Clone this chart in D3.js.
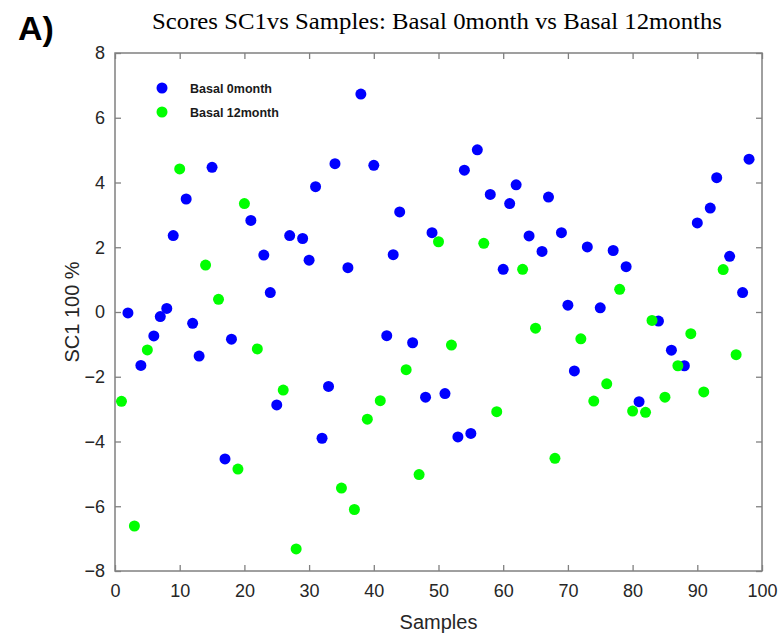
<!DOCTYPE html>
<html>
<head>
<meta charset="utf-8">
<script src="https://cdn.jsdelivr.net/npm/d3@7"></script>
<style>
  body { margin: 0; background: #fff; }
  text { font-family: "Liberation Sans", Arial, sans-serif; }
</style>
</head>
<body>
<script>
// data
var seriesNames = ["Basal 0month", "Basal 12month"];
var seriesColors = ["#0000ff", "#00ff00"];

var basal0x = [2, 4, 6, 7, 8, 9, 11, 12, 13, 15, 17, 18, 21, 23, 24, 25, 27, 29, 30, 31,
  32, 33, 34, 36, 38, 40, 42, 43, 44, 46, 48, 49, 51, 53, 54, 55, 56, 58, 60, 61,
  62, 64, 66, 67, 69, 70, 71, 73, 75, 77, 79, 81, 84, 86, 88, 90, 92, 93, 95, 97, 98];
var basal0y = [-0.03, -1.65, -0.74, -0.14, 0.11, 2.36, 3.49, -0.35, -1.36, 4.47, -4.54, -0.84, 2.83, 1.76, 0.6, -2.87, 2.36, 2.27, 1.6, 3.87,
  -3.9, -2.3, 4.58, 1.37, 6.73, 4.53, -0.73, 1.77, 3.09, -0.95, -2.63, 2.45, -2.52, -3.86, 4.38, -3.75, 5.01, 3.63, 1.32, 3.35,
  3.93, 2.35, 1.87, 3.55, 2.45, 0.21, -1.82, 2.01, 0.13, 1.9, 1.4, -2.77, -0.28, -1.18, -1.66, 2.75, 3.21, 4.15, 1.72, 0.6, 4.72];

var basal12x = [1, 3, 5, 10, 14, 16, 19, 20, 22, 26, 28, 35, 37, 39, 41, 45, 47, 50, 52, 57,
  59, 63, 65, 68, 72, 74, 76, 78, 80, 82, 83, 85, 87, 89, 91, 94, 96];
var basal12y = [-2.76, -6.61, -1.17, 4.42, 1.45, 0.39, -4.85, 3.35, -1.14, -2.41, -7.32, -5.44, -6.1, -3.31, -2.74, -1.78, -5.02, 2.17, -1.02, 2.12,
  -3.08, 1.32, -0.5, -4.52, -0.83, -2.75, -2.22, 0.7, -3.06, -3.1, -0.26, -2.63, -1.66, -0.67, -2.47, 1.31, -1.32];

var xTicks = [0, 10, 20, 30, 40, 50, 60, 70, 80, 90, 100];
var yTicks = [-8, -6, -4, -2, 0, 2, 4, 6, 8];

var width = 781, height = 638;
// plot box edges (top is reserved on window, so use other names)
var boxL = 115, boxR = 762, boxT = 53, boxB = 571;

var svg = d3.select("body").append("svg")
  .attr("width", width)
  .attr("height", height);

var x = d3.scaleLinear().domain([0, 100]).range([boxL, boxR]);
var y = d3.scaleLinear().domain([-8, 8]).range([boxB, boxT]);

var axisColor = "#808080", textColor = "#262626";

// box + ticks on all four sides, ticks pointing in
function styleAxis(g) {
  g.select(".domain").remove();
  g.selectAll(".tick line").attr("stroke", axisColor).attr("stroke-width", 1.3);
  g.selectAll(".tick text").attr("fill", textColor).style("font-size", "18px")
    .style("font-family", "'Liberation Sans', Arial, sans-serif");
}

svg.append("g")
  .attr("transform", "translate(0," + boxB + ")")
  .call(d3.axisBottom(x).tickValues(xTicks).tickSizeInner(-6).tickSizeOuter(0).tickPadding(13))
  .call(styleAxis);
svg.append("g")
  .attr("transform", "translate(0," + boxT + ")")
  .call(d3.axisTop(x).tickValues(xTicks).tickSizeInner(-6).tickSizeOuter(0).tickFormat(""))
  .call(styleAxis);
svg.append("g")
  .attr("transform", "translate(" + boxL + ",0)")
  .call(d3.axisLeft(y).tickValues(yTicks).tickSizeInner(-6).tickSizeOuter(0).tickPadding(10))
  .call(styleAxis);
svg.append("g")
  .attr("transform", "translate(" + boxR + ",0)")
  .call(d3.axisRight(y).tickValues(yTicks).tickSizeInner(-6).tickSizeOuter(0).tickFormat(""))
  .call(styleAxis);

svg.append("rect")
  .attr("x", boxL).attr("y", boxT)
  .attr("width", boxR - boxL).attr("height", boxB - boxT)
  .attr("fill", "none").attr("stroke", axisColor).attr("stroke-width", 1.5);

// points
var sets = [
  d3.zip(basal0x, basal0y),
  d3.zip(basal12x, basal12y)
];
sets.forEach(function(pts, i) {
  svg.append("g").selectAll("circle").data(pts).enter().append("circle")
    .attr("cx", function(d) { return x(d[0]); })
    .attr("cy", function(d) { return y(d[1]); })
    .attr("r", 5.5)
    .attr("fill", seriesColors[i]);
});

// legend
seriesNames.forEach(function(name, i) {
  var ly = 88 + i * 24;
  svg.append("circle").attr("cx", 162).attr("cy", ly).attr("r", 5.5).attr("fill", seriesColors[i]);
  svg.append("text").attr("x", 190).attr("y", ly + 4.5)
    .attr("fill", "#1a1a1a")
    .style("font-size", "12.5px").style("font-weight", "bold")
    .text(name);
});

// titles and labels
svg.append("text")
  .attr("x", 18).attr("y", 40)
  .style("font-size", "34px").style("font-weight", "bold")
  .attr("fill", "#000")
  .text("A)");

svg.append("text")
  .attr("x", 152).attr("y", 29)
  .attr("textLength", 570).attr("lengthAdjust", "spacingAndGlyphs")
  .style("font-family", "'Liberation Serif', 'Times New Roman', serif")
  .style("font-size", "23px")
  .attr("fill", "#000")
  .text("Scores SC1vs Samples: Basal 0month vs Basal 12months");

svg.append("text")
  .attr("x", (boxL + boxR) / 2).attr("y", 629)
  .attr("text-anchor", "middle")
  .attr("fill", textColor)
  .style("font-size", "20px")
  .text("Samples");

svg.append("text")
  .attr("transform", "translate(79," + ((boxT + boxB) / 2) + ") rotate(-90)")
  .attr("text-anchor", "middle")
  .attr("fill", textColor)
  .style("font-size", "20px")
  .text("SC1 100 %");
</script>
</body>
</html>
